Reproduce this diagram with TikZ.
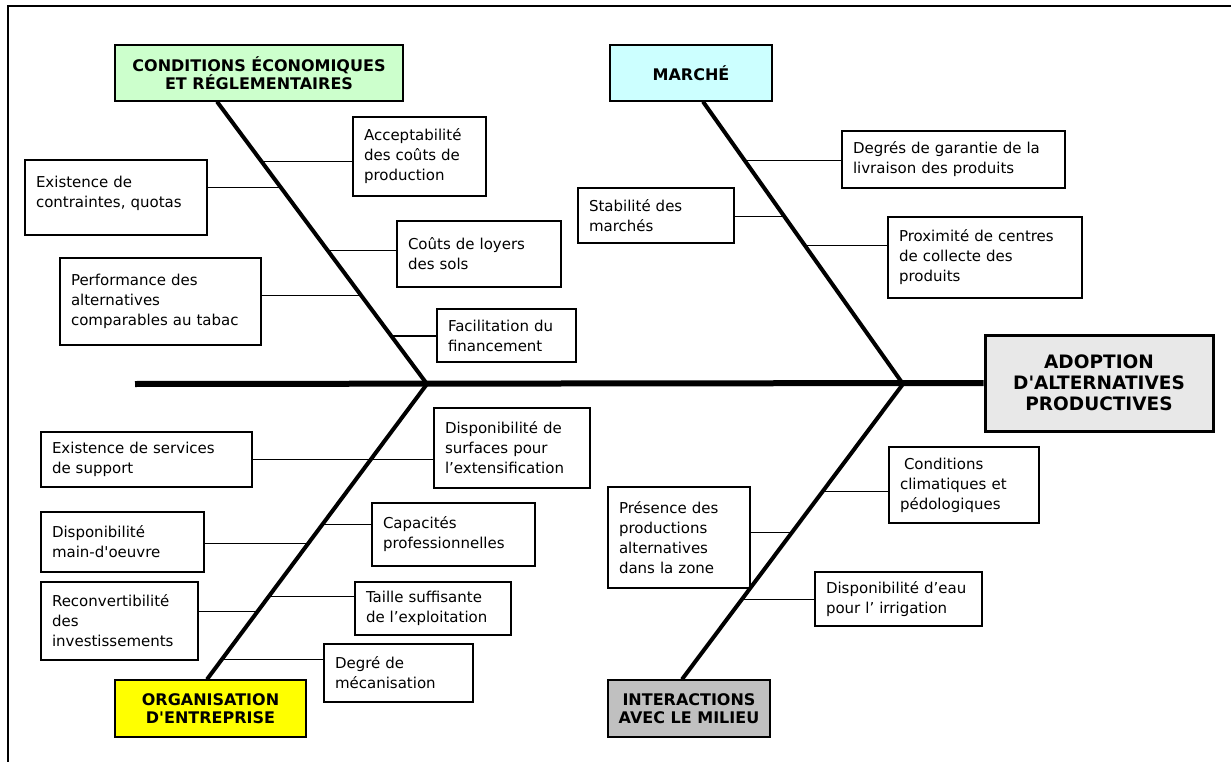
\documentclass[tikz,border=0pt]{standalone}
\usepackage{fontspec}
\setmainfont{DejaVu Sans}
\usepackage{tikz}
\usetikzlibrary{calc}

\definecolor{ecogreen}{HTML}{CCFFCC}
\definecolor{marketcyan}{HTML}{CCFFFF}
\definecolor{orgyellow}{HTML}{FFFF00}
\definecolor{envgray}{HTML}{C0C0C0}
\definecolor{headgray}{HTML}{E8E8E8}

\begin{document}
\begin{tikzpicture}[
    x=1pt, y=-1pt,
    cause/.style={draw, line width=1.1pt, inner xsep=11pt, inner ysep=0pt, align=left,
                  font=\fontsize{15}{20}\selectfont},
    cat/.style={draw, line width=1.3pt, inner sep=0pt, align=center,
                font=\fontsize{16}{17.5}\selectfont\bfseries},
    spine/.style={line width=6pt},
    bone/.style={line width=4pt},
    twig/.style={line width=1.1pt}
]
\useasboundingbox (0,0) rectangle (1231,762);

% frame
\draw[line width=1.2pt] (1231,6) -- (8,6) -- (8,762);

% effect and categories
\node[draw, line width=3pt, fill=headgray, inner sep=0pt, align=center,
      minimum width=228pt, minimum height=96pt,
      font=\fontsize{18.5}{21}\selectfont\bfseries] (head) at (1099,383)
      {ADOPTION\\D\textquotesingle ALTERNATIVES\\PRODUCTIVES};
\node[cat, fill=ecogreen, minimum width=288pt, minimum height=56pt] (econ) at (259,73)
      {CONDITIONS ÉCONOMIQUES\\ET RÉGLEMENTAIRES};
\node[cat, fill=marketcyan, minimum width=162pt, minimum height=56pt] (market) at (691,73) {MARCHÉ};
\node[cat, fill=orgyellow, minimum width=191pt, minimum height=57pt] (orga) at (210.5,708.5)
      {ORGANISATION\\D\textquotesingle ENTREPRISE};
\node[cat, fill=envgray, minimum width=162pt, minimum height=57pt] (milieu) at (689,708.5)
      {INTERACTIONS\\AVEC LE MILIEU};

% skeleton
\coordinate (tail) at (135,384);
\coordinate (j1) at (427,384);
\coordinate (j2) at (903,384);
\coordinate (b1) at ([xshift=-42pt]econ.south);
\coordinate (b2) at ([xshift=12pt]market.south);
\coordinate (b3) at ([xshift=-3.5pt]orga.north);
\coordinate (b4) at ([xshift=-7pt]milieu.north);

\draw[spine] (tail) -- (head.west);
\draw[bone] (b1) -- (j1);
\draw[bone] (b2) -- (j2);
\draw[bone] (j1) -- (b3);
\draw[bone] (j2) -- (b4);

% economic and regulatory conditions
\node[cause, text width=111pt, minimum height=79pt] (accept) at (419.5,156.5)
      {Acceptabilité\\des coûts de\\production};
\node[cause, text width=160pt, minimum height=75pt] (quotas) at (116,197.5)
      {Existence de\\contraintes, quotas\\[-8pt]\mbox{}};
\node[cause, text width=142pt, minimum height=66pt] (loyers) at (479,254)
      {Coûts de loyers\\des sols};
\node[cause, text width=179pt, minimum height=87pt] (perf) at (160.5,301.5)
      {Performance des\\alternatives\\comparables au tabac};
\node[cause, text width=117pt, minimum height=53pt] (finan) at (506.5,335.5)
      {Facilitation du\\financement};

% market
\node[cause, text width=134pt, minimum height=55pt] (stab) at (656,215.5)
      {Stabilité des\\marchés};
\node[cause, text width=201pt, minimum height=57pt] (garant) at (953.5,159.5)
      {Degrés de garantie de la\\livraison des produits};
\node[cause, text width=172pt, minimum height=81pt] (proxi) at (985,257.5)
      {Proximité de centres\\de collecte des\\produits};

% business organisation
\node[cause, text width=134pt, minimum height=80pt] (surf) at (512,448)
      {Disponibilité de\\surfaces pour\\l’extensification};
\node[cause, text width=189pt, minimum height=55pt] (serv) at (146.5,459.5)
      {Existence de services\\de support};
\node[cause, text width=141pt, minimum height=60pt] (mainoe) at (122.5,542)
      {Disponibilité\\main-d\textquotesingle oeuvre};
\node[cause, text width=141pt, minimum height=63pt] (capac) at (453.5,534.5)
      {Capacités\\professionnelles};
\node[cause, text width=135pt, minimum height=78pt] (reconv) at (119.5,621)
      {Reconvertibilité\\des\\investissements};
\node[cause, text width=134pt, minimum height=53pt] (taille) at (433,608.5)
      {Taille suffisante\\de l’exploitation};
\node[cause, text width=127pt, minimum height=58pt] (mecan) at (398.5,673)
      {Degré de\\mécanisation};

% interactions with the environment
\node[cause, text width=128pt, minimum height=76pt] (climat) at (964,485)
      {\hspace*{4pt}Conditions\\climatiques et\\pédologiques};
\node[cause, text width=120pt, minimum height=101pt] (presence) at (679,537.5)
      {Présence des\\productions\\alternatives\\dans la zone};
\node[cause, text width=145pt, minimum height=54pt] (eau) at (898.5,599)
      {Disponibilité d’eau\\pour l’ irrigation};

% twigs
\draw[twig] ($(b1)!0.212!(j1)$) -| (accept.west);
\draw[twig] ($(b1)!0.304!(j1)$) -| (quotas.east);
\draw[twig] ($(b1)!0.527!(j1)$) -| (loyers.west);
\draw[twig] ($(b1)!0.686!(j1)$) -| (perf.east);
\draw[twig] ($(b1)!0.830!(j1)$) -| (finan.west);

\draw[twig] ($(b2)!0.208!(j2)$) -| (garant.west);
\draw[twig] ($(b2)!0.406!(j2)$) -| (stab.east);
\draw[twig] ($(b2)!0.509!(j2)$) -| (proxi.west);

\draw[twig] ($(j1)!0.257!(b3)$) -| (serv.east);
\draw[twig] ($(j1)!0.257!(b3)$) -| (surf.west);
\draw[twig] ($(j1)!0.476!(b3)$) -| (capac.west);
\draw[twig] ($(j1)!0.541!(b3)$) -| (mainoe.east);
\draw[twig] ($(j1)!0.720!(b3)$) -| (taille.west);
\draw[twig] ($(j1)!0.770!(b3)$) -| (reconv.east);
\draw[twig] ($(j1)!0.932!(b3)$) -| (mecan.west);

\draw[twig] ($(j2)!0.365!(b4)$) -| (climat.west);
\draw[twig] ($(j2)!0.503!(b4)$) -| (presence.east);
\draw[twig] ($(j2)!0.730!(b4)$) -| (eau.west);

\end{tikzpicture}
\end{document}
